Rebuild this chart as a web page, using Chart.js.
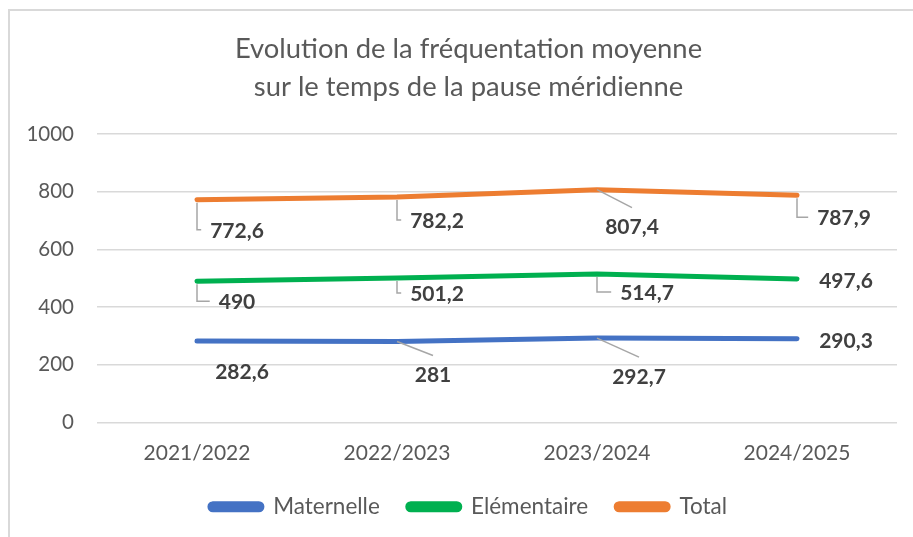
<!DOCTYPE html>
<html>
<head>
<meta charset="utf-8">
<script src="https://cdn.jsdelivr.net/npm/chart.js@4"></script>
<style>
  body { margin: 0; background: #fff; }
  #frame { position: absolute; left: 8px; top: 9px; width: 1000px; height: 1000px; border: 2px solid #d9d9d9; }
  #chart { position: absolute; left: 0; top: 0; }
</style>
</head>
<body>
<div id="frame"></div>
<canvas id="chart" width="913" height="537"></canvas>
<script>
// données
var annees = ["2021/2022", "2022/2023", "2023/2024", "2024/2025"];
var maternelle = [282.6, 281, 292.7, 290.3];
var elementaire = [490, 501.2, 514.7, 497.6];
var total = [772.6, 782.2, 807.4, 787.9];

// position des étiquettes (décalage en px par rapport au point) et type de trait de rappel
var etiquettes = [
  [{ dx: 45, dy: 31 }, { dx: 36, dy: 34, lien: "D" }, { dx: 42, dy: 39, lien: "D" }, { dx: 49, dy: 2 }],
  [{ dx: 40, dy: 21, lien: "L" }, { dx: 40, dy: 16, lien: "L" }, { dx: 50, dy: 19, lien: "L" }, { dx: 49, dy: 2 }],
  [{ dx: 40, dy: 31, lien: "L" }, { dx: 40, dy: 24, lien: "L" }, { dx: 35, dy: 38, lien: "D" }, { dx: 47, dy: 23, lien: "L" }]
];

var etiquettesPlugin = {
  id: "etiquettes",
  afterDatasetsDraw: function (chart) {
    var ctx = chart.ctx;
    ctx.save();
    ctx.font = "bold 21px Lato";
    ctx.textAlign = "center";
    ctx.textBaseline = "middle";
    chart.data.datasets.forEach(function (ds, di) {
      var meta = chart.getDatasetMeta(di);
      meta.data.forEach(function (pt, i) {
        var cfg = etiquettes[di][i];
        var txt = String(ds.data[i]).replace(".", ",");
        var w = ctx.measureText(txt).width;
        var cx = pt.x + cfg.dx, cy = pt.y + cfg.dy;
        ctx.strokeStyle = "#a6a6a6";
        ctx.lineWidth = 1.5;
        if (cfg.lien === "L") {
          ctx.beginPath();
          ctx.moveTo(pt.x, pt.y + 3);
          ctx.lineTo(pt.x, cy - 1);
          ctx.lineTo(cx - w / 2 - 9, cy - 1);
          ctx.stroke();
        } else if (cfg.lien === "D") {
          ctx.beginPath();
          ctx.moveTo(pt.x, pt.y);
          ctx.lineTo(cx, cy - 20);
          ctx.stroke();
        }
        ctx.fillStyle = "#404040";
        ctx.fillText(txt, cx, cy);
      });
    });
    ctx.restore();
  }
};

var ctx = document.getElementById("chart").getContext("2d");
var graph = new Chart(ctx, {
  type: "line",
  data: {
    labels: annees,
    datasets: [
      { label: "Maternelle", data: maternelle, borderColor: "#4472c4", backgroundColor: "#4472c4" },
      { label: "Elémentaire", data: elementaire, borderColor: "#00b050", backgroundColor: "#00b050" },
      { label: "Total", data: total, borderColor: "#ed7d31", backgroundColor: "#ed7d31" }
    ]
  },
  options: {
    responsive: false,
    animation: false,
    elements: {
      line: { borderWidth: 5, borderCapStyle: "round", borderJoinStyle: "round", tension: 0, fill: false },
      point: { radius: 0, hoverRadius: 0 }
    },
    layout: { padding: { left: 24, right: 0, top: 0, bottom: 9 } },
    plugins: {
      title: {
        display: true,
        text: ["Evolution de la fréquentation moyenne", "sur le temps de la pause méridienne"],
        color: "#595959",
        font: { family: "Lato", size: 27.4, weight: "normal", lineHeight: 1.39 },
        padding: { top: 30, bottom: 28 }
      },
      legend: {
        position: "bottom",
        labels: {
          color: "#595959",
          font: { family: "Lato", size: 22.5 },
          boxWidth: 52,
          boxHeight: 6,
          useBorderRadius: true,
          borderRadius: 3,
          padding: 28
        }
      },
      tooltip: { enabled: false }
    },
    scales: {
      x: {
        offset: true,
        grid: { display: false },
        border: { display: false },
        ticks: { color: "#595959", font: { family: "Lato", size: 21 }, padding: 10 },
        afterFit: function (s) { s.height = 45; }
      },
      y: {
        min: 0,
        max: 1000,
        grid: { color: "#d9d9d9", lineWidth: 1.4, drawTicks: false },
        border: { display: false },
        ticks: {
          stepSize: 200,
          color: "#595959",
          font: { family: "Lato", size: 20.5 },
          padding: 23,
          callback: function (v) { return String(v); }
        },
        afterFit: function (s) { s.width = 73; }
      },
      // axe vide à droite, seulement pour la marge
      marge: {
        position: "right",
        grid: { display: false },
        border: { display: false },
        ticks: { display: false },
        afterFit: function (s) { s.width = 16; }
      }
    }
  },
  plugins: [etiquettesPlugin]
});
</script>
</body>
</html>
